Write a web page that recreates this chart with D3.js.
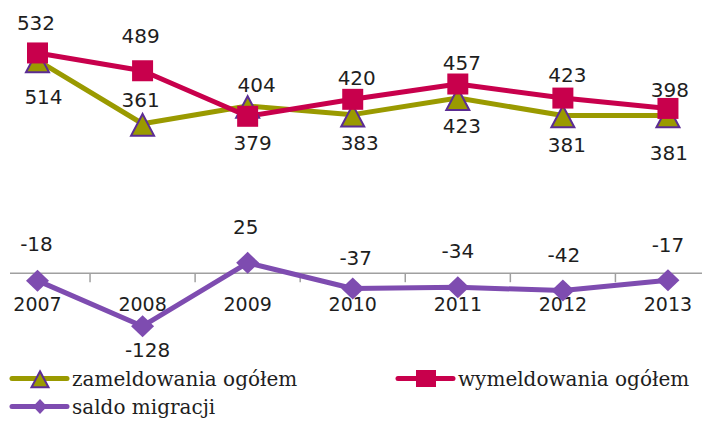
<!DOCTYPE html>
<html>
<head>
<meta charset="utf-8">
<script src="https://cdn.jsdelivr.net/npm/d3@7"></script>
<style>
html,body{margin:0;padding:0;background:#fff;}
svg{display:block;}
</style>
</head>
<body>
<svg id="chart" width="702" height="421"></svg>
<script>
// ---- data ----
const years = ["2007","2008","2009","2010","2011","2012","2013"];
const zameldowania = [514, 361, 404, 383, 423, 381, 381];
const wymeldowania = [532, 489, 379, 420, 457, 423, 398];
const saldo = [-18, -128, 25, -37, -34, -42, -17];
const seriesNames = ["zameldowania ogółem", "wymeldowania ogółem", "saldo migracji"];

// ---- layout (label nudges, px) ----
const zamLabelDx = [6, -2, 9, 7, 4, 4, 1];
const zamLabelDy = [43.6, -17, -14, 35, 35, 37, 44.5];
const wymLabelDx = [-1.5, -2, 5, 4, 4, 4.5, 2];
const wymLabelDy = [-23, -28, 34, -14, -14, -16, -11];
const salLabelDx = [-1, 5, -2, 3, 0, 1, 0];
const salLabelDy = [-30, 30.5, -29, -23.5, -29, -29, -28.5];

const svg = d3.select("#chart");
svg.append("rect").attr("width",702).attr("height",421).attr("fill","#fff");

const x = d3.scaleBand().domain(years).range([-15.04, 720.5]).paddingInner(0).paddingOuter(0);
const cx = d => x(d) + x.bandwidth()/2;
const y = d3.scaleLinear().domain([-200, 600]).range([356.0, 24.8]);

const C = {
  zam: "#9a9a00",
  wym: "#c8004c",
  sal: "#7e4cb0",
  triStroke: "#5b2c93",
  text: "#1e1e1e",
  axis: "#a0a0a0"
};

// axis
const axisG = svg.append("g");
axisG.append("line").attr("x1",10).attr("x2",702).attr("y1",y(0)).attr("y2",y(0))
  .attr("stroke",C.axis).attr("stroke-width",1.5);
const boundaries = years.map(d => x(d)).concat([x(years[years.length-1]) + x.bandwidth()]);
axisG.selectAll("line.tick").data(boundaries.filter(b => b > 10 && b < 702)).enter()
  .append("line").attr("class","tick")
  .attr("x1",d=>d).attr("x2",d=>d).attr("y1",y(0)).attr("y2",y(0)+9)
  .attr("stroke",C.axis).attr("stroke-width",1.5);
axisG.selectAll("text.yr").data(years).enter().append("text")
  .attr("x", d => cx(d)).attr("y", 311)
  .attr("text-anchor","middle")
  .attr("font-family","'DejaVu Sans', Verdana, sans-serif")
  .attr("font-size",19).attr("fill",C.text)
  .text(d => d);

const line = d3.line().x((d,i) => cx(years[i])).y(d => y(d));

function triPath(s){ // s: half width
  const h1 = s*0.85, h2 = s*1.15;
  return `M0,${-h1}L${s},${h2*0.9}L${-s},${h2*0.9}Z`;
}
function sqPath(s){ return `M${-s},${-s}H${s}V${s}H${-s}Z`; }
function diaPath(w,h){ return `M0,${-h}L${w},0L0,${h}L${-w},0Z`; }

// saldo line
svg.append("path").datum(saldo).attr("d", line).attr("fill","none")
  .attr("stroke",C.sal).attr("stroke-width",5).attr("stroke-linejoin","round");
// zameldowania line
svg.append("path").datum(zameldowania).attr("d", line).attr("fill","none")
  .attr("stroke",C.zam).attr("stroke-width",5).attr("stroke-linejoin","round");
// wymeldowania line
svg.append("path").datum(wymeldowania).attr("d", line).attr("fill","none")
  .attr("stroke",C.wym).attr("stroke-width",5).attr("stroke-linejoin","round");

// markers
svg.selectAll("path.dia").data(saldo).enter().append("path").attr("class","dia")
  .attr("transform",(d,i)=>`translate(${cx(years[i])},${y(d)})`)
  .attr("d", diaPath(11.5,11)).attr("fill",C.sal);
svg.selectAll("path.tri").data(zameldowania).enter().append("path").attr("class","tri")
  .attr("transform",(d,i)=>`translate(${cx(years[i])},${y(d)})`)
  .attr("d", triPath(11.5)).attr("fill",C.zam)
  .attr("stroke",C.triStroke).attr("stroke-width",2).attr("stroke-linejoin","miter");
svg.selectAll("path.sq").data(wymeldowania).enter().append("path").attr("class","sq")
  .attr("transform",(d,i)=>`translate(${cx(years[i])},${y(d)})`)
  .attr("d", sqPath(10.5)).attr("fill",C.wym);

// data labels
function labels(data, dx, dy, cls){
  svg.selectAll("text."+cls).data(data).enter().append("text").attr("class",cls)
    .attr("x",(d,i)=>cx(years[i]) + dx[i])
    .attr("y",(d,i)=>y(d) + dy[i])
    .attr("text-anchor","middle")
    .attr("font-family","'DejaVu Sans', Verdana, sans-serif")
    .attr("font-size",20).attr("fill",C.text)
    .text(d => d);
}
labels(zameldowania, zamLabelDx, zamLabelDy, "lz");
labels(wymeldowania, wymLabelDx, wymLabelDy, "lw");
labels(saldo, salLabelDx, salLabelDy, "ls");

// legend
const legend = [
  {name: seriesNames[0], color: C.zam, x: 12, y: 378.5, m: "tri"},
  {name: seriesNames[1], color: C.wym, x: 398, y: 378.5, m: "sq"},
  {name: seriesNames[2], color: C.sal, x: 12, y: 406.5, m: "dia"}
];
const lg = svg.selectAll("g.lg").data(legend).enter().append("g").attr("class","lg")
  .attr("transform", d => `translate(${d.x},${d.y})`);
lg.append("line").attr("x1",0).attr("x2",55).attr("y1",0).attr("y2",0)
  .attr("stroke", d => d.color).attr("stroke-width",5).attr("stroke-linecap","round");
lg.append("path").attr("transform","translate(28,0)")
  .attr("d", d => d.m === "tri" ? triPath(8.5) : d.m === "sq" ? `M-10,-8.5H10V8.5H-10Z` : diaPath(7,7.5))
  .attr("fill", d => d.color)
  .attr("stroke", d => d.m === "tri" ? C.triStroke : "none").attr("stroke-width",2);
lg.append("text").attr("x",60).attr("y",7)
  .attr("font-family","'DejaVu Serif', 'Liberation Serif', serif")
  .attr("font-size",20).attr("fill",C.text)
  .text(d => d.name);
</script>
</body>
</html>
